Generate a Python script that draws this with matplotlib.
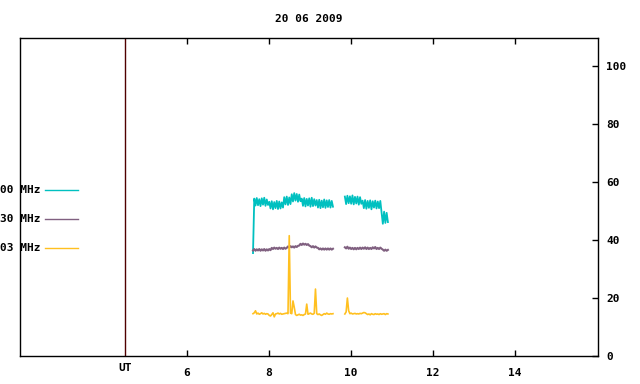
import numpy as np
import matplotlib
matplotlib.use("Agg")
import matplotlib.pyplot as plt

title = "20 06 2009"
legend_labels = ["00 MHz", "30 MHz", "03 MHz"]
colors = ["#00c0c0", "#806080", "#ffc020"]
xticks = [6, 8, 10, 12, 14]
yticks = [0, 20, 40, 60, 80, 100]
ut_hour = 4.49

# segment 1: 7.61 h .. 9.56 h, segment 2: 9.85 h .. 10.90 h
seg1_start, seg1_end = 7.61, 9.56
seg2_start, seg2_end = 9.85, 10.90

c1 = [35.5,
      54.3, 51.9, 54.5, 52.0, 54.1, 51.7, 54.4, 52.2, 54.6, 51.8, 54.0, 52.1,
      53.2, 50.9, 53.4, 50.6, 53.1, 51.0, 53.5, 50.7, 53.3, 50.9, 53.0, 51.2,
      54.8, 52.3, 55.0, 52.1, 54.7, 52.4,
      55.8, 53.3, 56.2, 53.6, 55.9, 53.2, 55.7, 53.4,
      54.3, 51.8, 54.5, 51.6, 54.2, 51.9, 54.4, 51.5, 54.6, 51.7, 54.1, 51.9,
      53.8, 51.2, 53.9, 51.0, 53.6, 51.3, 54.0, 51.1, 53.7, 51.4, 53.8, 51.2,
      53.5, 51.5]
p1 = [36.4, 36.9, 36.3, 36.8, 36.4, 36.9, 36.3, 36.8, 36.4, 36.9,
      36.3, 36.8, 36.4, 36.9, 36.5, 37.3, 36.9, 37.4, 37.0, 37.3,
      36.9, 37.4, 37.0, 37.3, 36.9, 37.4, 37.0, 37.3, 37.8, 37.4,
      37.9, 37.5, 37.8, 37.4, 37.9, 37.6, 38.0, 38.1, 38.7, 38.3,
      38.8, 38.4, 38.7, 38.3, 38.6, 38.1, 37.9, 37.5, 37.9, 37.4,
      37.8, 37.4, 37.3, 36.8, 37.1, 36.7, 37.1, 36.7, 37.1, 36.7,
      37.1, 36.7, 37.1, 36.7, 37.0]
y1 = [14.6, 14.9, 15.6, 14.5, 14.8, 14.4, 14.6, 14.9, 14.5, 14.7,
      14.4, 14.6, 14.5, 14.0, 13.8, 14.3, 14.9, 13.5, 14.5, 14.6,
      14.8, 14.5, 14.7, 14.4, 14.5, 14.6, 14.7, 14.8, 14.6, 41.5,
      14.8, 14.6, 19.0, 16.8, 14.3, 14.0, 14.2, 14.4, 14.1, 14.2,
      14.0, 14.3, 14.5, 17.9, 14.4, 14.6, 14.8, 14.5, 14.4, 14.7,
      23.1, 14.6, 14.3, 14.5, 14.2, 14.0, 14.3, 14.6, 14.4, 14.8,
      14.5, 14.4, 14.6, 14.5, 14.6]

c2 = [55.0, 52.4, 55.3, 52.7, 55.1, 52.5, 55.4, 52.3, 54.9, 52.6,
      55.0, 52.2, 54.8, 52.5,
      53.6, 51.0, 53.8, 50.8, 53.5, 51.1, 53.7, 50.6, 53.4, 51.2,
      53.6, 50.9, 53.3, 51.0, 53.5,
      49.5, 45.6, 49.8, 45.9, 49.4, 46.2]
p2 = [37.5, 37.1, 37.7, 37.0, 37.4, 36.9, 37.3, 36.8, 37.3, 36.8,
      37.3, 36.9, 37.4, 36.9, 37.4, 37.0, 37.5, 36.9, 37.4, 36.9,
      37.3, 36.9, 37.5, 37.1, 37.6, 36.9, 37.3, 36.9, 37.4, 37.0,
      36.7, 36.3, 36.7, 36.3, 36.6]
y2 = [14.5, 15.2, 20.0, 15.6, 14.6, 14.8, 14.5, 14.6, 14.7, 14.5,
      14.6, 14.5, 14.7, 14.6, 14.8, 15.0, 14.9, 14.6, 14.3, 14.5,
      14.2, 14.6, 14.4, 14.3, 14.6, 14.4, 14.5, 14.3, 14.6, 14.4,
      14.5, 14.6, 14.3, 14.6, 14.5]

t1 = np.linspace(seg1_start, seg1_end, len(c1))
t2 = np.linspace(seg2_start, seg2_end, len(c2))

plt.rcParams['font.family'] = ['DejaVu Sans Mono']
fs = 8

fig = plt.figure(figsize=(6.4, 3.84), dpi=100)
ax = fig.add_axes([20/640, 28/384, 578/640, 318/384])

series = [(c1, c2), (p1, p2), (y1, y2)]
widths = [1.3, 1.5, 1.2]
for (a, b), col, lw in zip(series, colors, widths):
    ax.plot(t1, a, color=col, lw=lw)
    ax.plot(t2, b, color=col, lw=lw)

ax.axvline(ut_hour, color="#500000", lw=1.0)

ax.set_xlim(1.927, 16.024)
ax.set_ylim(0, 109.7)

ax.yaxis.tick_right()
ax.set_yticks(yticks)
ax.set_yticklabels([str(v) for v in yticks], fontsize=fs, fontweight='bold')
ax.tick_params(axis='y', direction='in', length=4, width=1, pad=6, right=True, left=False)
ax.set_xticks(xticks)
ax.set_xticklabels([str(v) for v in xticks], fontsize=fs, fontweight='bold')
ax.tick_params(axis='x', direction='in', length=4, width=1, pad=9, top=True, bottom=True)
for s in ax.spines.values():
    s.set_linewidth(1.0)
    s.set_color('black')

# UT label
fig.text(125/640, 1 - 368/384, "UT", ha='center', va='center', fontsize=fs, fontweight='bold')
# title
fig.text(309/640, 1 - 19/384, title, ha='center', va='center', fontsize=fs, fontweight='bold')

# legend on the left
leg_y = [190, 219, 248]
for lab, col, yy in zip(legend_labels, colors, leg_y):
    fig.text(41/640, 1 - yy/384, lab, ha='right', va='center', fontsize=fs, fontweight='bold')
    fig.add_artist(plt.Line2D([45/640, 78/640], [1 - yy/384, 1 - yy/384], color=col, lw=1.0))

fig.savefig("out.png", dpi=100)
